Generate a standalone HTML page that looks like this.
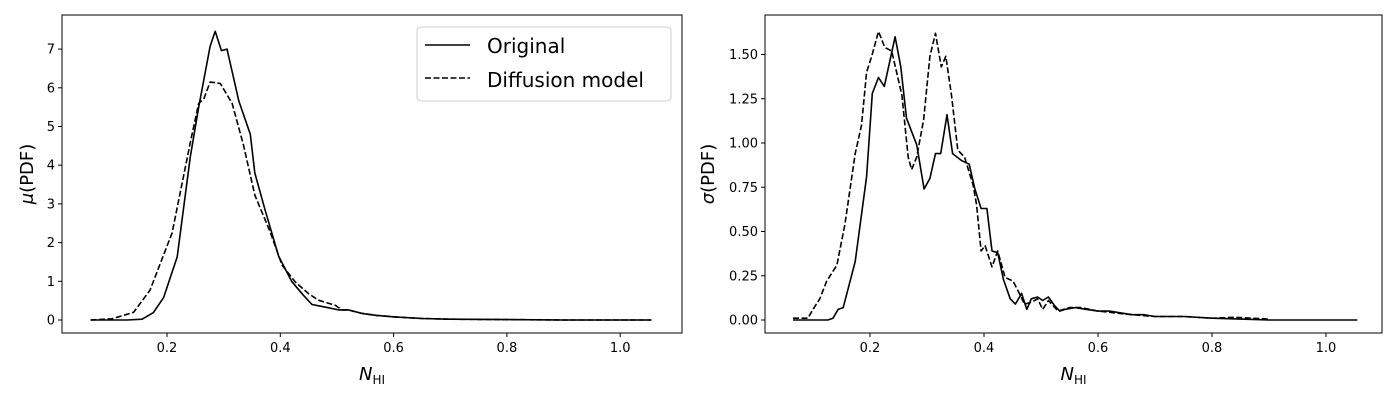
<!DOCTYPE html>
<html><head><meta charset="utf-8">
<style>
body{margin:0;background:#fff}
svg{display:block;font-family:"DejaVu Sans","Liberation Sans",sans-serif}
</style></head>
<body>
<svg id="fig" width="1400" height="400" viewBox="0 0 1400 400" xmlns="http://www.w3.org/2000/svg"></svg>
<script>
// Left panel: mean PDF
const leftOrigX=[0.065,0.1,0.13,0.156,0.176,0.194,0.218,0.241,0.256,0.276,0.285,0.296,0.306,0.327,0.347,0.355,0.373,0.397,0.42,0.44,0.456,0.48,0.503,0.52,0.544,0.57,0.602,0.65,0.7,0.8,0.9,1.055];
const leftOrigY=[0,0,0,0.02,0.19,0.58,1.63,4.2,5.5,7.07,7.46,6.96,7.0,5.65,4.8,3.8,2.85,1.65,1.0,0.65,0.4,0.33,0.26,0.26,0.17,0.12,0.08,0.04,0.02,0.01,0.0,0.0];
const leftDiffX=[0.065,0.103,0.141,0.17,0.209,0.241,0.256,0.265,0.276,0.294,0.315,0.335,0.355,0.382,0.403,0.426,0.45,0.468,0.497,0.509,0.52,0.544,0.57,0.602,0.65,0.7,0.8,0.9,1.055];
const leftDiffY=[0,0.03,0.2,0.77,2.25,4.57,5.6,5.71,6.15,6.11,5.6,4.52,3.23,2.28,1.42,0.99,0.68,0.51,0.38,0.26,0.26,0.17,0.12,0.08,0.04,0.02,0.01,0.0,0.0];
const leftYTicks=[0,1,2,3,4,5,6,7];
// Right panel: std PDF
const rightOrigX=[0.065,0.126,0.135,0.144,0.153,0.174,0.194,0.204,0.215,0.225,0.244,0.254,0.264,0.282,0.295,0.305,0.315,0.324,0.335,0.345,0.361,0.374,0.384,0.395,0.405,0.414,0.424,0.434,0.446,0.455,0.466,0.475,0.483,0.494,0.503,0.513,0.524,0.533,0.542,0.56,0.58,0.6,0.62,0.64,0.66,0.68,0.7,0.75,0.8,0.85,0.9,1.055];
const rightOrigY=[0,0,0.01,0.06,0.07,0.33,0.81,1.28,1.37,1.32,1.60,1.43,1.14,0.99,0.74,0.80,0.94,0.94,1.16,0.94,0.90,0.88,0.74,0.63,0.63,0.39,0.38,0.23,0.12,0.09,0.15,0.06,0.12,0.13,0.11,0.13,0.08,0.05,0.06,0.07,0.06,0.05,0.05,0.04,0.03,0.03,0.02,0.02,0.01,0.005,0,0];
const rightDiffX=[0.065,0.091,0.1,0.112,0.124,0.142,0.156,0.174,0.185,0.194,0.203,0.215,0.226,0.238,0.256,0.267,0.273,0.282,0.294,0.305,0.315,0.325,0.333,0.343,0.354,0.366,0.381,0.387,0.395,0.402,0.414,0.424,0.437,0.451,0.462,0.471,0.483,0.494,0.503,0.513,0.53,0.55,0.57,0.6,0.63,0.66,0.7,0.75,0.8,0.84,0.9];
const rightDiffY=[0.01,0.01,0.06,0.12,0.22,0.31,0.54,0.94,1.10,1.40,1.49,1.63,1.54,1.52,1.27,0.92,0.85,0.92,1.13,1.49,1.62,1.43,1.49,1.27,0.96,0.92,0.76,0.65,0.39,0.42,0.30,0.39,0.24,0.22,0.15,0.09,0.10,0.12,0.06,0.11,0.05,0.07,0.07,0.05,0.04,0.03,0.02,0.02,0.01,0.015,0.005];
const rightYTicks=[0,0.25,0.5,0.75,1.0,1.25,1.5];
const rightYTickLabels=["0.00","0.25","0.50","0.75","1.00","1.25","1.50"];
const xTicks=[0.2,0.4,0.6,0.8,1.0];
const xTickLabels=["0.2","0.4","0.6","0.8","1.0"];

const NS="http://www.w3.org/2000/svg";
const fig=document.getElementById('fig');
function mk(tag,attrs,parent){const e=document.createElementNS(NS,tag);for(const k in attrs)e.setAttribute(k,attrs[k]);(parent||fig).appendChild(e);return e;}

function panel(o){
  const g=mk('g',{});
  
  
  const sx=v=>o.x0px+(v-0)*o.xs;
  const sy=v=>o.y0px-v*o.ys;
  const frame=mk('rect',{x:o.L,y:o.T,width:o.R-o.L,height:o.B-o.T,fill:'none',stroke:'#000','stroke-width':1},g);
  
  
  xTicks.forEach((t,i)=>{
    const x=sx(t);
    mk('line',{x1:x,x2:x,y1:o.B,y2:o.B+4,stroke:'#000'},g);
    const tx=mk('text',{x:x,y:o.B+19,'text-anchor':'middle','font-size':13},g);
    tx.textContent=xTickLabels[i];
    
    
  });
  o.yt.forEach((t,i)=>{
    const y=sy(t);
    mk('line',{x1:o.L-4,x2:o.L,y1:y,y2:y,stroke:'#000'},g);
    const tx=mk('text',{x:o.L-7,y:y+4.5,'text-anchor':'end','font-size':13},g);
    tx.textContent=o.ytl[i];
    
    
  });
  function line(xs,ys,dash,name){
    const d=xs.map((v,i)=>(i?'L':'M')+sx(v).toFixed(1)+','+sy(ys[i]).toFixed(1)).join('');
    const p=mk('path',{d:d,fill:'none',stroke:'#000','stroke-width':1.6,'stroke-linejoin':'round'},g);
    if(dash)p.setAttribute('stroke-dasharray','6,2.5');
    
    
  }
  line(o.ox,o.oy,false,'original-line');
  line(o.dx,o.dy,true,'diffusion-line');
  const xl=mk('text',{x:(o.L+o.R)/2,y:380,'text-anchor':'middle','font-size':18,'font-style':'italic'},g);
  xl.innerHTML='N<tspan font-size="12" font-style="normal" dy="4">HI</tspan>';
  
  
  const yl=mk('text',{x:0,y:0,'text-anchor':'middle','font-size':18,transform:`translate(${o.ylx},${(o.T+o.B)/2}) rotate(-90)`},g);
  yl.innerHTML='<tspan font-style="italic">'+o.ysym+'</tspan>(PDF)';
  
  
}
panel({name:'mean-pdf-panel',L:62,R:682,T:15,B:333,x0px:53.7,xs:566.5,y0px:320,ys:38.7,yt:leftYTicks,ytl:leftYTicks.map(String),ox:leftOrigX,oy:leftOrigY,dx:leftDiffX,dy:leftDiffY,ylx:33,ysym:'μ'});
panel({name:'std-pdf-panel',L:765,R:1382,T:15,B:333,x0px:756,xs:570,y0px:320,ys:177,yt:rightYTicks,ytl:rightYTickLabels,ox:rightOrigX,oy:rightOrigY,dx:rightDiffX,dy:rightDiffY,ylx:714,ysym:'σ'});

// legend
const lg=mk('g',{});


mk('rect',{x:417,y:27,width:254,height:74,rx:4,fill:'#fff',stroke:'#ccc'},lg);
mk('line',{x1:425,x2:470,y1:45,y2:45,stroke:'#000','stroke-width':1.6},lg);
mk('line',{x1:425,x2:470,y1:78,y2:78,stroke:'#000','stroke-width':1.6,'stroke-dasharray':'6,2.5'},lg);
const t1=mk('text',{x:487,y:53,'font-size':20},lg);t1.textContent='Original';


const t2=mk('text',{x:487,y:87,'font-size':20},lg);t2.textContent='Diffusion model';


</script>
</body></html>
